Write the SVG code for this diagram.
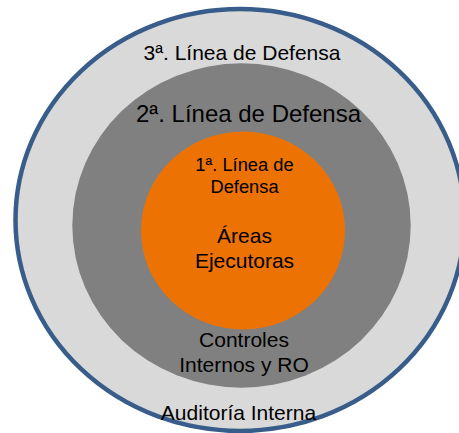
<svg xmlns="http://www.w3.org/2000/svg" width="459" height="433" viewBox="0 0 459 433">
<style>
text{font-family:"Liberation Sans",Arial,sans-serif;fill:#000;text-anchor:middle}
</style>
<rect width="459" height="433" fill="#fff"/>
<g id="tercera">
<ellipse cx="240" cy="220" rx="224.5" ry="211" fill="#d9d9d9" stroke="#385d8a" stroke-width="4.5"/>
<text x="242" y="60" font-size="21">3ª. Línea de Defensa</text>
<text x="238.5" y="420" font-size="21">Auditoría Interna</text>
</g>
<g id="segunda">
<ellipse cx="241.5" cy="225.5" rx="169.2" ry="162.2" fill="#808080"/>
<text x="248.5" y="121.7" font-size="24">2ª. Línea de Defensa</text>
<text x="244" y="347" font-size="21">Controles</text>
<text x="244" y="372" font-size="21">Internos y RO</text>
</g>
<g id="primera">
<ellipse cx="243" cy="230.5" rx="102" ry="99" fill="#ec7204"/>
<text x="244.5" y="171" font-size="18.3">1ª. Línea de</text>
<text x="244.5" y="192.7" font-size="18.3">Defensa</text>
<text x="244.5" y="243.3" font-size="21">Áreas</text>
<text x="244.5" y="268.3" font-size="21">Ejecutoras</text>
</g>
<g id="connectors"/>
</svg>
